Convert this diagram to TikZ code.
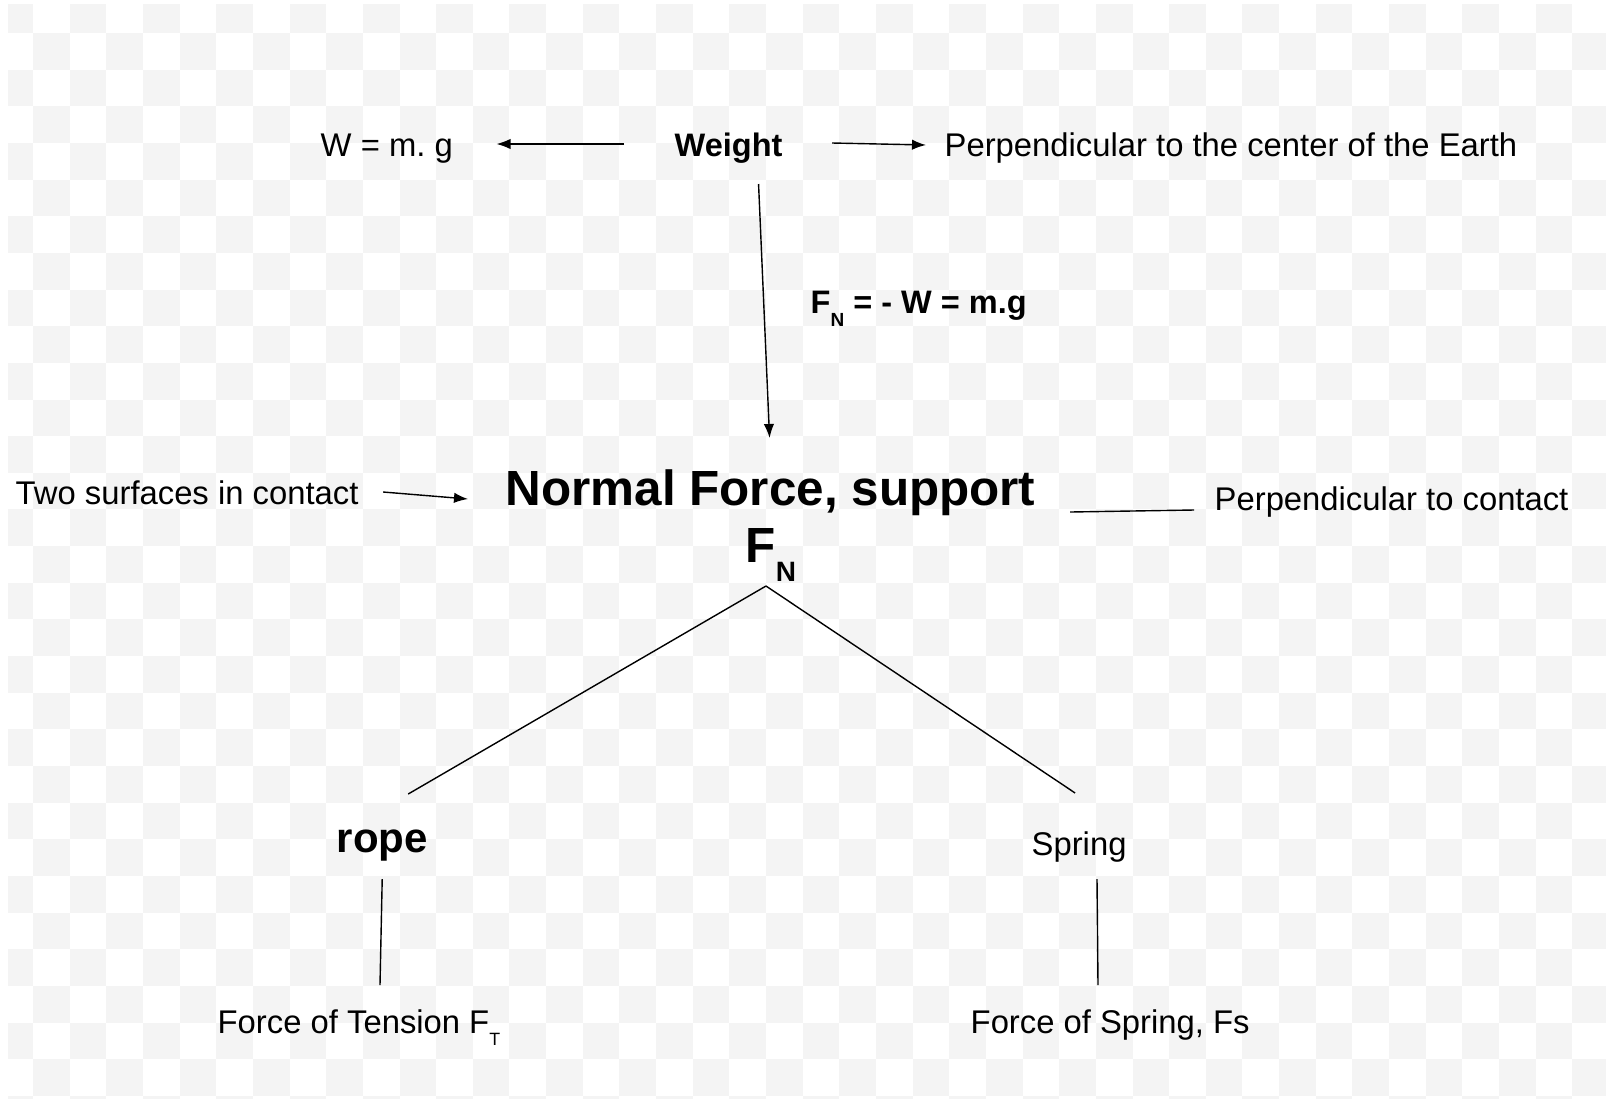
\documentclass[tikz,border=0pt]{standalone}
\usepackage{fontspec}
\setmainfont{Liberation Sans}
\usetikzlibrary{arrows.meta}
\definecolor{checkgrey}{HTML}{F4F4F4}
\tikzstyle{term}=[inner sep=0pt,anchor=base west,font=\fontsize{16.4}{19}\selectfont]
\tikzstyle{keyterm}=[term,font=\fontsize{16.25}{19}\selectfont\bfseries]
\tikzstyle{mainterm}=[term,font=\fontsize{24.7}{29}\selectfont\bfseries]
\tikzstyle{branch}=[term,font=\fontsize{21}{25}\selectfont\bfseries]
\newcommand{\lowsub}[2]{\raisebox{-\height}{\fontsize{#1}{#1}\selectfont #2}}
\frenchspacing

\begin{document}
\begin{tikzpicture}[x=0.5pt,y=-0.5pt,line width=0.7pt,>={Latex[length=7pt,width=5.2pt]}]
            % background
            \fill[white] (0,0) rectangle (1606,1099);
            \useasboundingbox (0,0) rectangle (1606,1099);
            \begin{scope}
                \clip (8,4) rectangle (1606,1098);
                \foreach \i in {0,...,44}
                    \foreach \j in {0,...,30}
                        {\ifodd\numexpr\i+\j\relax\else
                            \fill[checkgrey] (33+\i*36.65-36.65,33+\j*36.65-36.65) rectangle +(36.65,36.65);
                        \fi}
            \end{scope}

            % WEIGHT PART

            \node[keyterm] (weight) at (674,156) {Weight};
            \node[term] (wmg) at (320,156) {W = m. g};
            \node[term] (earth) at (944,156) {Perpendicular to the center of the Earth};
            \node[keyterm] (fneq) at (810,313) {F\lowsub{9.5}{N} = - W = m.g};

            \path[->] ([shift={(-50,-12)}]weight.base west) edge ([shift={(43,-12)}]wmg.base east);
            \path[->] ([shift={(49,-13)}]weight.base east) edge ([shift={(-18,-11)}]earth.base west);

            % NORMAL FORCE PART

            \node[mainterm] (normal) at (505,505) {Normal Force, support};
            \node[mainterm] (fnbig) at (745,562) {F\lowsub{14}{N}};
            \node[term] (contact) at (15,504) {Two surfaces in contact};
            \node[term] (perpc) at (1214,510) {Perpendicular to contact};

            \path[->] ([shift={(30,28)}]weight.base) edge ([shift={(-1,-67)}]normal.base);
            \path[->] ([shift={(24,-12)}]contact.base east) edge ([shift={(-37,-6)}]normal.base west);
            \path[-] ([shift={(34,7)}]normal.base east) edge ([shift={(-20,0)}]perpc.base west);

            % ROPE AND SPRING PART

            \node[branch] (rope) at (336,852) {rope};
            \node[term] (spring) at (1031,855) {Spring};
            \node[term] (tension) at (217,1033) {Force of Tension F\lowsub{8.9}{T}};
            \node[term] (fspring) at (970,1033) {Force of Spring, Fs};

            \path[-] ([shift={(21,24)}]fnbig.base west) edge ([shift={(26,-58)}]rope.base);
            \path[-] ([shift={(21,24)}]fnbig.base west) edge ([shift={(-4,-62)}]spring.base);
            \path[-] ([shift={(0,27)}]rope.base) edge ([shift={(163,-48)}]tension.base west);
            \path[-] ([shift={(66,24)}]spring.base west) edge ([shift={(128,-48)}]fspring.base west);

        \end{tikzpicture}
\end{document}
